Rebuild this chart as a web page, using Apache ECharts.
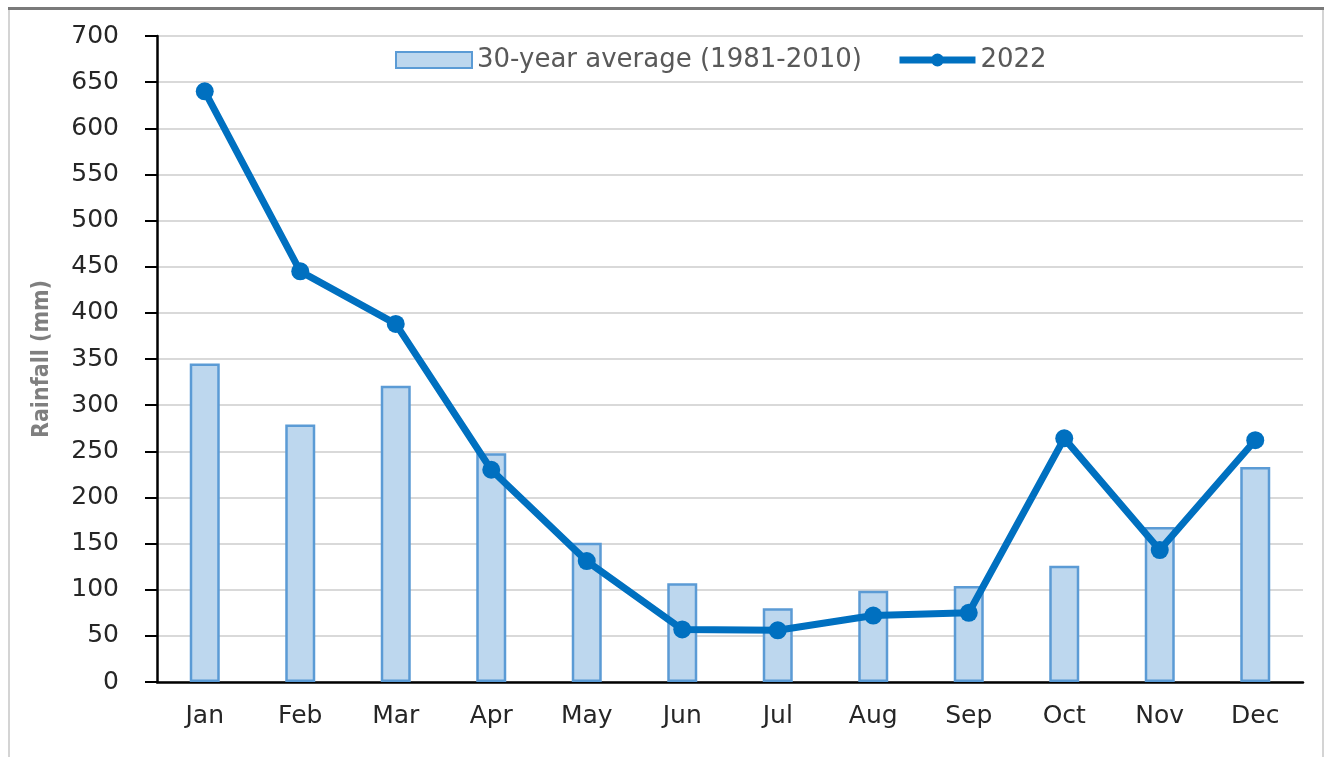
<!DOCTYPE html>
<html>
<head>
<meta charset="utf-8">
<script src="https://cdn.jsdelivr.net/npm/echarts@6/dist/echarts.min.js"></script>
<style>
  html, body { margin: 0; padding: 0; background: #fff; }
  #chart { width: 1325px; height: 757px; }
</style>
</head>
<body>
<div id="chart"></div>
<script>
// data
const months = ['Jan', 'Feb', 'Mar', 'Apr', 'May', 'Jun', 'Jul', 'Aug', 'Sep', 'Oct', 'Nov', 'Dec'];
const average = [345, 279, 321, 248, 151, 107, 80, 99, 104, 126, 168, 233];
const rain2022 = [640, 445, 388, 230, 131, 57, 56, 72, 75, 264, 143, 262];
const yTicks = { min: 0, max: 700, step: 50 };

const font = 'DejaVu Sans';
const blue = '#0070c0';

const chart = echarts.init(document.getElementById('chart'));

const option = {
  backgroundColor: '#fff',
  animation: false,
  graphic: [
    {
      type: 'rect',
      shape: { x: 9, y: 9, width: 1314, height: 760 },
      style: { fill: 'none', stroke: '#d4d4d4', lineWidth: 2 },
      silent: true
    },
    {
      type: 'line',
      shape: { x1: 8, y1: 8.5, x2: 1324, y2: 8.5 },
      style: { stroke: '#7a7a7a', lineWidth: 3 },
      silent: true
    }
  ],
  grid: { left: 157, right: 22, top: 36, bottom: 75 },
  legend: {
    left: 390,
    top: 42,
    itemWidth: 76,
    itemHeight: 16,
    itemGap: 34,
    textStyle: { fontFamily: font, fontSize: 26, color: '#595959' },
    data: [
      { name: '30-year average (1981-2010)', icon: 'rect' },
      { name: '2022', lineStyle: { width: 7 } }
    ]
  },
  xAxis: {
    type: 'category',
    data: months,
    axisLine: { lineStyle: { color: '#000', width: 2.5 } },
    axisTick: { show: false },
    axisLabel: { fontFamily: font, fontSize: 25, color: '#262626', margin: 22 }
  },
  yAxis: {
    type: 'value',
    min: yTicks.min,
    max: yTicks.max,
    interval: yTicks.step,
    name: 'Rainfall (mm)',
    nameLocation: 'middle',
    nameRotate: 90,
    nameGap: 103,
    nameTextStyle: {
      fontFamily: 'DejaVu Sans Condensed, Liberation Sans',
      fontWeight: 'bold',
      fontSize: 23,
      color: '#7f7f7f'
    },
    axisLine: { show: true, lineStyle: { color: '#000', width: 2.5 } },
    axisTick: { show: true, inside: false, length: 12, lineStyle: { color: '#000', width: 2 } },
    axisLabel: { fontFamily: font, fontSize: 25, color: '#262626', margin: 38 },
    splitLine: { lineStyle: { color: '#d9d9d9', width: 2 } }
  },
  series: [
    {
      name: '30-year average (1981-2010)',
      type: 'bar',
      data: average,
      barWidth: 30,
      itemStyle: { color: '#bdd7ee', borderColor: '#5b9bd5', borderWidth: 2.5 }
    },
    {
      name: '2022',
      type: 'line',
      data: rain2022,
      symbol: 'circle',
      symbolSize: 18,
      lineStyle: { color: blue, width: 7 },
      itemStyle: { color: blue },
      z: 5
    }
  ]
};

chart.setOption(option);
</script>
</body>
</html>
